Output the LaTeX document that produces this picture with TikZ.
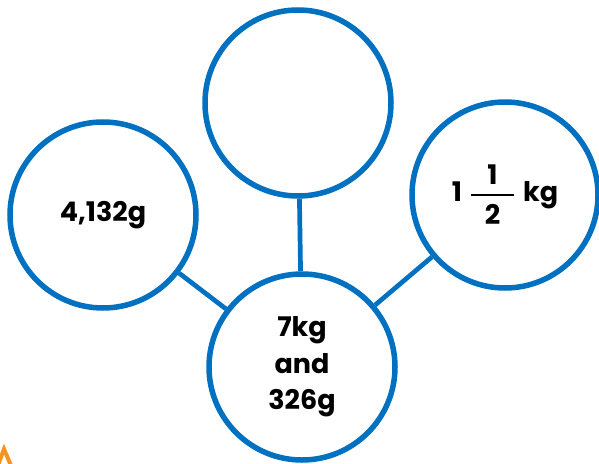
\documentclass[tikz,border=0pt]{standalone}
\usepackage{fontspec}
\setmainfont{Poppins}

\definecolor{ringblue}{HTML}{0070C0}
\definecolor{logoorange}{HTML}{F7941D}

\newcommand{\bigfrac}[2]{$\vcenter{\hbox to 43pt{\hss#1\hss}\kern9pt
  \hrule height 2pt\kern9pt\hbox to 43pt{\hss#2\hss}}$}

\begin{document}
\begin{tikzpicture}[x=1pt,y=-1pt,
  wt/.style={circle, draw=ringblue, line width=5.5pt, minimum size=186pt,
    inner sep=0pt, align=center, font=\bfseries\fontsize{27}{36.5}\selectfont},
  link/.style={draw=ringblue, line width=4.7pt}]
  \useasboundingbox (0,0) rectangle (599,463);

  % kreisar
  \node [wt] (grams) at (103,215) {4,132g};
  \node [wt] (blank) at (298,103) {};
  \node [wt] (half) at (505,195) {1\hspace{9pt}\bigfrac{1}{2}\hspace{9pt}kg};
  \node [wt] (mix) at (302,367) {7kg\\and\\326g};

  % tengingar
  \draw [link] (grams) -- (mix);
  \draw [link] (blank) -- (mix);
  \draw [link] (half) -- (mix);

  % merki
  \draw [logoorange, line width=4pt] (-3,468) -- (4,449) -- (12,468);
\end{tikzpicture}
\end{document}
